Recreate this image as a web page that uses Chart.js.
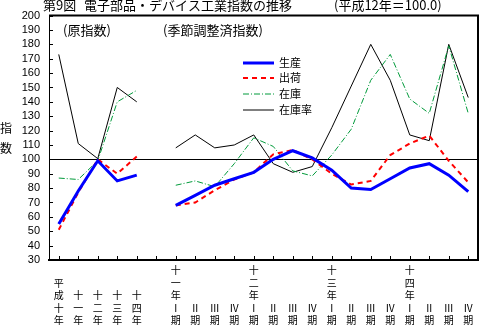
<!DOCTYPE html>
<html>
<head>
<meta charset="utf-8">
<script src="https://cdn.jsdelivr.net/npm/chart.js@4"></script>
<style>
  html, body { margin: 0; padding: 0; background: #fff; }
  #wrap { width: 480px; height: 328px; position: relative; }
</style>
</head>
<body>
<div id="wrap"><canvas id="chart" width="480" height="328"></canvas></div>
<script>
// 区分（年・四半期）
const categories = ['平成十年', '十一年', '十二年', '十三年', '十四年', '',
    '十一年Ⅰ期', 'Ⅱ期', 'Ⅲ期', 'Ⅳ期',
    '十二年Ⅰ期', 'Ⅱ期', 'Ⅲ期', 'Ⅳ期',
    '十三年Ⅰ期', 'Ⅱ期', 'Ⅲ期', 'Ⅳ期',
    '十四年Ⅰ期', 'Ⅱ期', 'Ⅲ期', 'Ⅳ期'];

// 原指数(5年) + 空き + 季節調整済指数(16四半期)
const seisan = [55, 78, 99, 85, 89, null,
    68, 75, 82, 86.5, 91, 100, 106, 101, 92.5, 80, 79, 86.5, 94, 97, 89, 77.5];
const shukka = [51, 77, 100, 90, 102, null,
    68, 70, 78.5, 86, 91, 103.5, 106.5, 100, 90, 82.5, 85, 103, 111, 116.5, 99, 84];
const zaiko = [87, 86, 99, 140, 148, null,
    82, 85, 81, 97, 115, 109, 92, 88.5, 103, 121, 155, 173, 142, 132, 179, 132];
const zaikoritsu = [173, 111, 100.5, 150, 140, null,
    108, 117, 108, 110, 117, 97, 91, 95, 122, 151, 180, 155, 117, 113, 180, 143];

const yTicks = [30, 200, 10];

const JP = '"Noto Sans CJK JP", "Noto Sans", sans-serif';

// ラベルを縦書き用に1文字ずつ分け、下揃えにする
const xLabels = categories.map(c => {
    const chars = Array.from(c);
    while (chars.length < 5) chars.unshift('');
    return chars;
});

// 枠線・目盛・凡例・注記を描くプラグイン
const decorPlugin = {
    id: 'decor',
    afterDraw(chart) {
        const ctx = chart.ctx;
        const a = chart.chartArea;
        const xs = chart.scales.x, ys = chart.scales.y;
        ctx.save();
        ctx.strokeStyle = '#000';

        // 上と右の枠
        ctx.lineWidth = 2;
        ctx.beginPath();
        ctx.moveTo(a.left, a.top);
        ctx.lineTo(a.right, a.top);
        ctx.lineTo(a.right, a.bottom);
        ctx.stroke();

        // 内向きの目盛
        ctx.lineWidth = 1;
        ctx.beginPath();
        ys.ticks.forEach(t => {
            const y = Math.round(ys.getPixelForValue(t.value)) + 0.5;
            ctx.moveTo(a.left, y);
            ctx.lineTo(a.left + 4, y);
        });
        categories.forEach((c, i) => {
            const x = Math.round(xs.getPixelForTick(i)) + 0.5;
            ctx.moveTo(x, a.bottom);
            ctx.lineTo(x, a.bottom - 4);
        });
        ctx.stroke();

        // タイトル
        ctx.fillStyle = '#000';
        ctx.textBaseline = 'middle';
        ctx.textAlign = 'left';
        ctx.font = '13px ' + JP;
        ctx.fillText('第9図', 43, 5);
        ctx.fillText('電子部品・デバイス工業指数の推移', 84, 5);
        ctx.fillText('(平成12年＝100.0)', 334, 5);

        // 注記
        ctx.fillText('(原指数)', 63, 30);
        ctx.fillText('(季節調整済指数)', 163, 30);

        // 縦軸タイトル
        ctx.textAlign = 'center';
        ctx.font = '12px ' + JP;
        ctx.fillText('指', 6, 128);
        ctx.fillText('数', 6, 148);

        // 凡例
        ctx.textAlign = 'left';
        ctx.font = '11px ' + JP;
        const ly = [63, 78, 94, 110];
        chart.data.datasets.forEach((ds, i) => {
            ctx.save();
            ctx.strokeStyle = ds.borderColor;
            ctx.lineWidth = ds.borderWidth;
            ctx.setLineDash(ds.borderDash || []);
            ctx.beginPath();
            ctx.moveTo(243, ly[i]);
            ctx.lineTo(274, ly[i]);
            ctx.stroke();
            ctx.restore();
            ctx.fillText(ds.label, 279, ly[i]);
        });
        ctx.restore();
    }
};

new Chart(document.getElementById('chart'), {
    type: 'line',
    data: {
        labels: xLabels,
        datasets: [{
            label: '生産',
            data: seisan,
            borderColor: '#0000ff',
            borderWidth: 3
        }, {
            label: '出荷',
            data: shukka,
            borderColor: '#ff0000',
            borderWidth: 2,
            borderDash: [5, 4]
        }, {
            label: '在庫',
            data: zaiko,
            borderColor: '#009a3a',
            borderWidth: 1,
            borderDash: [6, 2, 1, 2]
        }, {
            label: '在庫率',
            data: zaikoritsu,
            borderColor: '#000000',
            borderWidth: 1
        }]
    },
    options: {
        responsive: false,
        animation: false,
        spanGaps: false,
        elements: {
            point: { radius: 0, hoverRadius: 0 },
            line: { tension: 0, fill: false }
        },
        layout: { padding: { top: 14, right: 2, left: 0, bottom: 0 } },
        plugins: {
            legend: { display: false },
            tooltip: { enabled: false }
        },
        scales: {
            x: {
                offset: true,
                grid: { display: false, drawTicks: false },
                border: { display: true, color: '#000', width: 2 },
                ticks: {
                    autoSkip: false,
                    maxRotation: 0,
                    minRotation: 0,
                    padding: 4,
                    color: '#000',
                    font: { family: JP, size: 10, lineHeight: 1.25 }
                },
                afterFit(scale) { scale.height = 68; }
            },
            y: {
                min: yTicks[0],
                max: yTicks[1],
                grid: {
                    drawTicks: false,
                    color: c => (c.tick && c.tick.value === 100) ? '#000' : 'rgba(0,0,0,0)',
                    lineWidth: 1
                },
                border: { display: true, color: '#000', width: 1 },
                ticks: {
                    stepSize: yTicks[2],
                    autoSkip: false,
                    padding: 9,
                    color: '#000',
                    font: { family: '"Liberation Sans", sans-serif', size: 11 }
                },
                afterFit(scale) { scale.width = 49; }
            }
        }
    },
    plugins: [decorPlugin]
});
</script>
</body>
</html>
